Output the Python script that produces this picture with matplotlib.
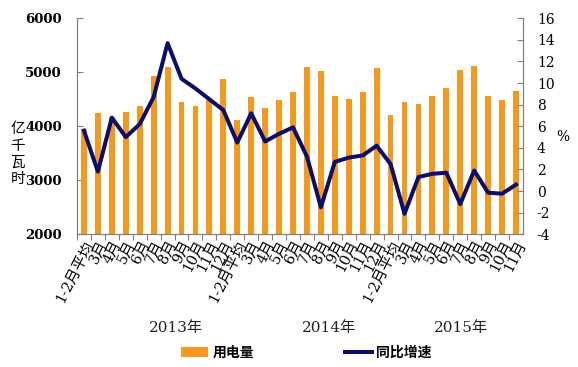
import matplotlib
matplotlib.use("Agg")
import matplotlib.pyplot as plt
from matplotlib.lines import Line2D
from matplotlib.patches import Patch
import numpy as np

categories = (["1-2月平均"] + [f"{m}月" for m in range(3, 13)]
              + ["1-2月平均"] + [f"{m}月" for m in range(3, 13)]
              + ["1-2月平均"] + [f"{m}月" for m in range(3, 12)])
consumption = [3950, 4240, 4180, 4265, 4380, 4937, 5093, 4444, 4370, 4480, 4882,
               4122, 4537, 4344, 4493, 4635, 5093, 5024, 4561, 4500, 4630, 5080,
               4215, 4444, 4407, 4561, 4715, 5037, 5117, 4561, 4493, 4654]
growth = [5.6, 1.8, 6.8, 5.0, 6.2, 8.7, 13.7, 10.4, 9.5, 8.5, 7.5,
          4.5, 7.2, 4.6, 5.3, 5.9, 3.2, -1.5, 2.7, 3.1, 3.3, 4.2,
          2.5, -2.1, 1.3, 1.6, 1.7, -1.2, 1.9, -0.15, -0.24, 0.6]
years = ["2013年", "2014年", "2015年"]
left_ticks = [2000, 3000, 4000, 5000, 6000]
right_ticks = [-4, -2, 0, 2, 4, 6, 8, 10, 12, 14, 16]

BAR = "#F39A1E"
LINE = "#0D0D6B"
SPINE = "#808080"
serif = ["DejaVu Serif", "Noto Sans CJK SC"]
cjk = ["Noto Sans CJK SC", "DejaVu Sans"]

fig = plt.figure(figsize=(5.78, 3.67), dpi=100)
ax = fig.add_axes([0.1332, 0.3616, 0.7716, 0.5886])
ax2 = ax.twinx()

x = np.arange(len(categories))
ax.bar(x, consumption, width=0.42, color=BAR, zorder=2)
ax2.plot(x, growth, color=LINE, lw=2.9, zorder=3)

ax.set_xlim(-0.5, len(categories) - 0.5)
ax.set_ylim(2000, 6000)
ax2.set_ylim(-4, 16)
ax.set_yticks(left_ticks)
ax2.set_yticks(right_ticks)
ax.set_yticklabels([str(v) for v in left_ticks], family=serif, fontsize=9.5, fontweight="bold")
ax2.set_yticklabels([str(v) for v in right_ticks], family=serif, fontsize=10)

ax.set_xticks(x - 0.5, minor=False)
ax.set_xticklabels([""] * len(x))
ax.set_xticks(x, minor=True)
ax.set_xticklabels(categories, minor=True, rotation=63, ha="right",
                   rotation_mode="anchor", family=serif, fontsize=10.5)
ax.tick_params(axis="x", which="minor", length=0, pad=3)
ax.tick_params(axis="x", which="major", direction="out", length=4, color=SPINE)
ax.tick_params(axis="y", direction="in", length=4, pad=11, color=SPINE)
ax2.tick_params(axis="y", direction="in", length=4, pad=10, color=SPINE)

for a in (ax, ax2):
    a.spines["top"].set_visible(False)
    for s in ("left", "right", "bottom"):
        a.spines[s].set_color(SPINE)

fig.text(18 / 578, 1 - 154 / 367, "亿\n千\n瓦\n时", family=cjk, fontsize=10.5,
         ha="center", va="center", linespacing=1.25)
fig.text(563 / 578, 1 - 137 / 367, "%", family=serif, fontsize=10, ha="center", va="center")

for yr, px in zip(years, [176, 329, 461]):
    fig.text(px / 578, 1 - 328 / 367, yr, family=serif, fontsize=11,
             ha="center", va="center", color="#222222")

handles = [Patch(facecolor=BAR, edgecolor="none"),
           Line2D([0], [0], color=LINE, lw=2.9)]
fig.legend(handles, ["用电量", "同比增速"], loc="center", ncol=2,
           bbox_to_anchor=(0.53, 1 - 353 / 367), frameon=False,
           prop={"family": cjk, "size": 10, "weight": "bold"},
           handlelength=2.0, columnspacing=6.5, handletextpad=0.3)

fig.savefig("out.png", dpi=100)
